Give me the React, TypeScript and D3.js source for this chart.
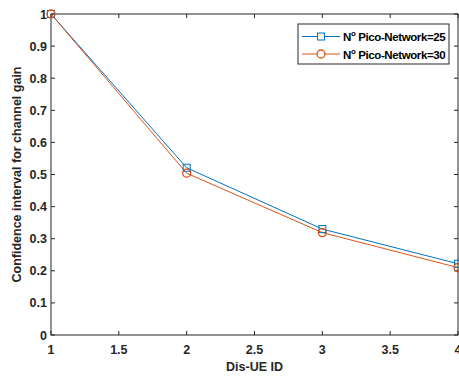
import React from "react";
import * as d3 from "d3";

const xValues = [1, 2, 3, 4];
const series25 = [1.0, 0.521, 0.33, 0.222];
const series30 = [1.0, 0.504, 0.319, 0.21];
const seriesNames = ["25", "30"];
const xTicks = [1, 1.5, 2, 2.5, 3, 3.5, 4];
const yTicks = [0, 0.1, 0.2, 0.3, 0.4, 0.5, 0.6, 0.7, 0.8, 0.9, 1];

const W = 459, H = 376;
const L = 51, R = 458, T = 14, B = 335;
const axisColor = "#262626";
const font = "'Liberation Sans', Arial, sans-serif";

export default function App() {
  const x = d3.scaleLinear().domain([1, 4]).range([L, R]);
  const y = d3.scaleLinear().domain([0, 1]).range([B, T]);
  const line = d3.line<number>().x((_, i) => x(xValues[i])).y((d) => y(d));
  const blue = "#0072BD", orange = "#D95319";
  const tk = 4;
  return (
    <svg width={W} height={H} style={{ position: "absolute", left: 0, top: 0 }} fontFamily={font}>
      <rect x={0} y={0} width={W} height={H} fill="#fff" />
      <rect x={L} y={T} width={R - L} height={B - T} fill="none" stroke={axisColor} strokeWidth={1} />
      {xTicks.map((t) => (
        <g key={"x" + t}>
          <line x1={x(t)} x2={x(t)} y1={B} y2={B - tk} stroke={axisColor} />
          <line x1={x(t)} x2={x(t)} y1={T} y2={T + tk} stroke={axisColor} />
          <text x={x(t)} y={B + 19} textAnchor="middle" fontSize={12.5} fontWeight="bold" fill={axisColor}>{t}</text>
        </g>
      ))}
      {yTicks.map((t) => (
        <g key={"y" + t}>
          <line x1={L} x2={L + tk} y1={y(t)} y2={y(t)} stroke={axisColor} />
          <line x1={R} x2={R - tk} y1={y(t)} y2={y(t)} stroke={axisColor} />
          <text x={L - 4} y={y(t) + 4.5} textAnchor="end" fontSize={12.5} fontWeight="bold" fill={axisColor}>{t}</text>
        </g>
      ))}
      <text x={(L + R) / 2} y={371} textAnchor="middle" fontSize={12.5} fontWeight="bold" fill={axisColor}>Dis-UE ID</text>
      <text transform={`translate(21,${(T + B) / 2}) rotate(-90)`} textAnchor="middle" fontSize={12.5} fontWeight="bold" fill={axisColor}>Confidence interval for channel gain</text>
      <path d={line(series25) || ""} fill="none" stroke={blue} strokeWidth={1} />
      <path d={line(series30) || ""} fill="none" stroke={orange} strokeWidth={1} />
      {series25.map((v, i) => (
        <rect key={"s" + i} x={x(xValues[i]) - 3.5} y={y(v) - 3.5} width={7} height={7} fill="none" stroke={blue} strokeWidth={1} />
      ))}
      {series30.map((v, i) => (
        <circle key={"c" + i} cx={x(xValues[i])} cy={y(v)} r={4} fill="none" stroke={orange} strokeWidth={1.3} />
      ))}
      <rect x={298} y={24} width={151} height={40} fill="#fff" stroke={axisColor} strokeWidth={1} />
      {[blue, orange].map((c, i) => {
        const ly = 36.5 + i * 17.5;
        return (
          <g key={"l" + i}>
            <line x1={302} x2={340} y1={ly} y2={ly} stroke={c} />
            {i === 0 ? (
              <rect x={317.5} y={ly - 3.5} width={7} height={7} fill="#fff" stroke={c} />
            ) : (
              <circle cx={321} cy={ly} r={4} fill="#fff" stroke={c} strokeWidth={1.3} />
            )}
            <text x={343} y={ly + 4.5} fontSize={11.5} fontWeight="bold" fill="#000" letterSpacing={-0.4}>
              N<tspan dy={-5} fontSize={8}>o</tspan><tspan dy={5}>{" Pico-Network=" + seriesNames[i]}</tspan>
            </text>
          </g>
        );
      })}
    </svg>
  );
}
